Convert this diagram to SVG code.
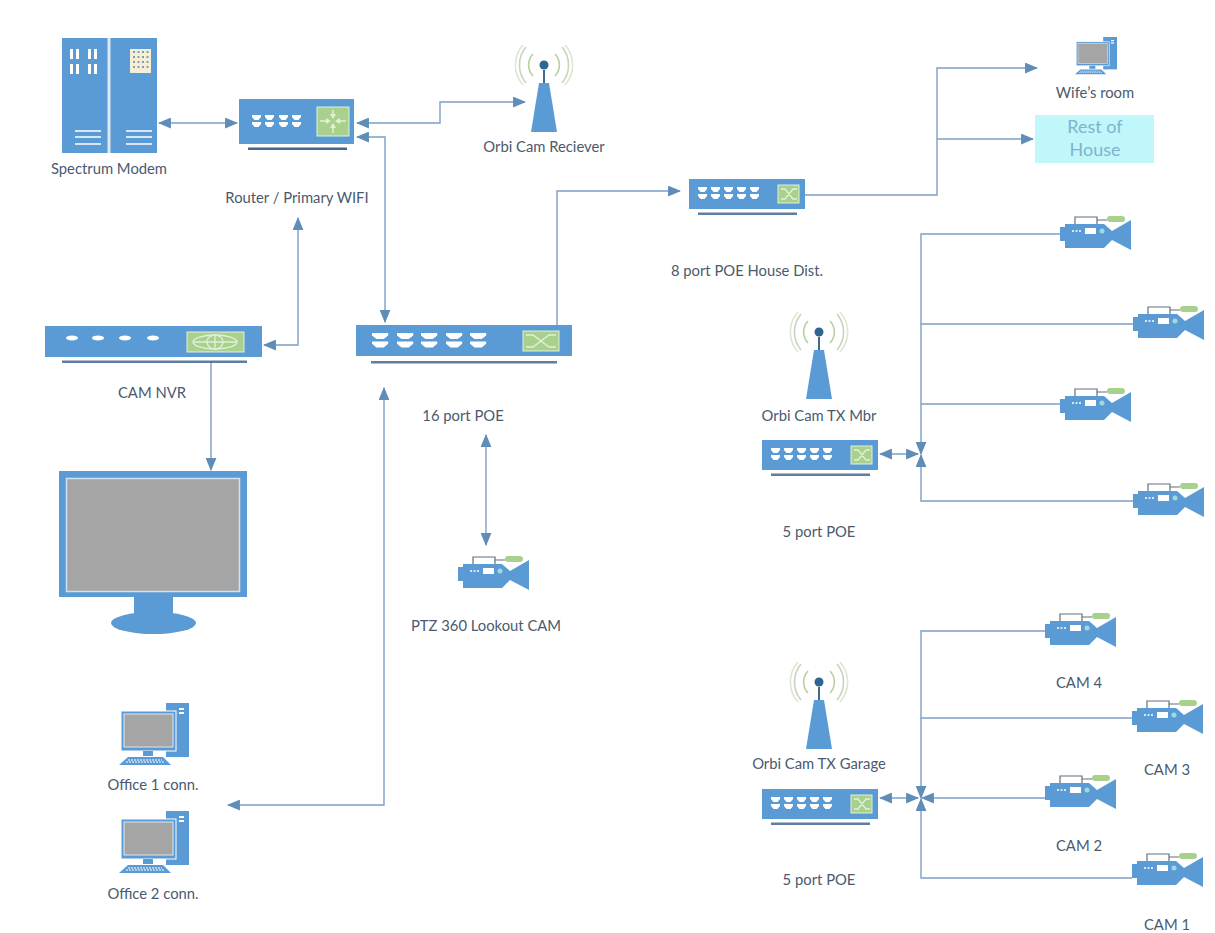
<svg xmlns="http://www.w3.org/2000/svg" xmlns:xlink="http://www.w3.org/1999/xlink" width="1215" height="933" viewBox="0 0 1215 933">
<style>
text{font-family:"Lato","Open Sans","Liberation Sans",sans-serif;font-size:14.800px;fill:#4a5a6e;text-anchor:middle}
.b{fill:#5b9bd5}
.w{fill:#fff}
.g{fill:#a5a5a5}
.lg{fill:#a9d18e;stroke:#e2f0d9;stroke-width:1}
.d{fill:#44688f}
.c{fill:none;stroke:#7d9fc6;stroke-width:1.4}
.a{fill:none;stroke:#b8cf9f;stroke-width:1.6}
.a2{fill:none;stroke:#c9d3c0;stroke-width:1.6}
.sym{fill:none;stroke:#e2f0d9;stroke-width:1.3}
.rest{font-size:18px;fill:#7fb4cc}
</style>
<defs>
<marker id="ah" viewBox="0 0 12 10" refX="11" refY="5" markerUnits="userSpaceOnUse" markerWidth="13" markerHeight="11" orient="auto-start-reverse"><path d="M0 0L12 5L0 10Z" fill="#5f8db8"/></marker>
<g id="port"><path d="M0 0H9V2L6.500 5H2.500L0 2Z" class="w"/><path d="M0 7H9V9L6.500 12H2.500L0 9Z" class="w"/></g>
<g id="sw5">
<rect width="116" height="30" class="b"/><rect x="9" y="33.500" width="99" height="2.500" class="d" opacity=".85"/>
<use href="#port" x="9" y="8"/><use href="#port" x="22" y="8"/><use href="#port" x="35" y="8"/><use href="#port" x="48" y="8"/><use href="#port" x="61" y="8"/>
<rect x="89" y="6" width="21" height="18" class="lg"/><path d="M92 10H96L104 20H108M92 20H96L104 10H108" class="sym"/>
</g>
<g id="cam">
<path d="M0 11H5V8H44L52 15L71 4V34L52 24L44 32H5V25H0Z" class="b"/>
<path d="M15 8V1H37V8M37 4H47" fill="none" stroke="#5f6f80" stroke-width="1.200"/>
<rect x="47" y="0" width="18" height="6" rx="3" fill="#a9d18e"/>
<rect x="25" y="12" width="11" height="6" class="w"/><circle cx="42" cy="15" r="2.500" fill="#9fd8df"/>
<path d="M12 15H21" stroke="#fff" stroke-width="1.500" stroke-dasharray="2 1.500"/>
</g>
<g id="ant">
<path d="M-5 -49H5L13 0H-13Z" class="b"/><path d="M0 -62V-49" stroke="#44688f" stroke-width="2"/><circle cx="0" cy="-67" r="4.500" fill="#2f6690"/>
<path d="M-11 -78A16 16 0 0 0 -11 -56M11 -78A16 16 0 0 1 11 -56" class="a"/>
<path d="M-18 -85A28 28 0 0 0 -18 -49M18 -85A28 28 0 0 1 18 -49" class="a2"/>
<path d="M-21 -87A30 30 0 0 0 -21 -47M21 -87A30 30 0 0 1 21 -47" class="a" opacity=".5"/>
</g>
<g id="pc">
<rect x="47" y="0" width="23" height="54" class="b"/><rect x="60" y="5" width="5" height="2" class="w"/><rect x="60" y="9" width="5" height="2" class="w"/>
<rect x="2" y="8" width="55" height="40" class="b" stroke="#fff" stroke-width="1"/><rect x="5" y="11" width="49" height="33" class="g" stroke="#dbe7f3" stroke-width="1"/>
<rect x="24" y="48" width="10" height="5" class="b"/>
<path d="M9 54H44L52 62H0Z" class="b"/><path d="M9 57H43M7 59H45" stroke="#fff" stroke-width="1" stroke-dasharray="2 1"/>
</g>
</defs>
<rect width="1215" height="933" fill="#fff"/>
<g id="connectors">
<path class="c" marker-start="url(#ah)" marker-end="url(#ah)" d="M159 123H237"/>
<path class="c" marker-start="url(#ah)" marker-end="url(#ah)" d="M357 123H440V102H525"/>
<path class="c" marker-start="url(#ah)" marker-end="url(#ah)" d="M357 137H385V322"/>
<path class="c" marker-start="url(#ah)" marker-end="url(#ah)" d="M298 218V345H264"/>
<path class="c" marker-end="url(#ah)" d="M557 326V191H680"/>
<path class="c" marker-end="url(#ah)" d="M211 361V470"/>
<path class="c" marker-start="url(#ah)" marker-end="url(#ah)" d="M384 388V805H228"/>
<path class="c" marker-start="url(#ah)" marker-end="url(#ah)" d="M486 435V545"/>
<path class="c" marker-end="url(#ah)" d="M805 195H937V68H1037"/>
<path class="c" marker-end="url(#ah)" d="M937 139H1033"/>
<path class="c" marker-start="url(#ah)" marker-end="url(#ah)" d="M880 454H918"/>
<path class="c" marker-end="url(#ah)" d="M921 324V454"/>
<path class="c" d="M1060 234H921V324H1133M921 404H1060"/>
<path class="c" marker-end="url(#ah)" d="M1133 501H921V455"/>
<path class="c" marker-start="url(#ah)" marker-end="url(#ah)" d="M880 798H918"/>
<path class="c" marker-end="url(#ah)" d="M921 718V798"/>
<path class="c" d="M1045 631H921V718H1132"/>
<path class="c" marker-end="url(#ah)" d="M1132 878H921V799"/>
<path class="c" marker-end="url(#ah)" d="M1045 798H922"/>
</g>
<g id="modem">
<rect x="62" y="38" width="95" height="115" class="b"/><rect x="107.500" y="38" width="3" height="115" fill="#dbe9f6"/>
<g class="w"><rect x="70" y="49" width="3" height="10"/><rect x="76" y="49" width="3" height="10"/><rect x="88" y="49" width="3" height="10"/><rect x="94" y="49" width="3" height="10"/><rect x="70" y="64" width="3" height="10"/><rect x="76" y="64" width="3" height="10"/><rect x="88" y="64" width="3" height="10"/><rect x="94" y="64" width="3" height="10"/></g>
<rect x="130" y="49" width="21" height="24" fill="#f4f0d8"/>
<path d="M133 52H149M133 57H149M133 62H149M133 67H149" stroke="#8c9aa8" stroke-width="2" stroke-dasharray="2 2.500"/>
<path d="M75 131H101M75 137H101M75 144H101M126 131H152M126 137H152M126 144H152" stroke="#fff" stroke-width="1.500"/>
<text x="109" y="174">Spectrum Modem</text>
</g>
<g id="router">
<rect x="239" y="99" width="115" height="45" class="b"/><rect x="248" y="147.500" width="99" height="2.500" class="d"/>
<use href="#port" x="252" y="115"/><use href="#port" x="265" y="115"/><use href="#port" x="279" y="115"/><use href="#port" x="292" y="115"/>
<rect x="317" y="107" width="32" height="29" class="lg"/>
<path d="M320 121H327M346 121H339M333 110V115M333 133V127" stroke="#e2f0d9" stroke-width="1.500"/>
<path d="M331 121L326 118V124ZM335 121L340 118V124ZM333 119L330 114H336ZM333 123L330 128H336Z" fill="#e2f0d9"/>
<text x="297" y="203">Router / Primary WIFI</text>
</g>
<g id="orbi-receiver"><use href="#ant" x="544" y="132"/><text x="544" y="152">Orbi Cam Reciever</text></g>
<g id="wife-pc"><use href="#pc" transform="translate(1075 37) scale(.6)"/><text x="1095" y="98">Wife’s room</text></g>
<g id="rest-of-house"><rect x="1035" y="115" width="119" height="48" fill="#bff7fb"/><text class="rest" x="1095" y="133">Rest of</text><text class="rest" x="1095" y="156">House</text></g>
<g id="house-dist"><use href="#sw5" x="689" y="179"/><text x="747" y="276">8 port POE House Dist.</text></g>
<g id="nvr">
<rect x="45" y="326" width="217" height="31" class="b"/><rect x="62" y="360.500" width="185" height="2.500" class="d" opacity=".85"/>
<g class="w"><ellipse cx="72" cy="338" rx="6" ry="2.500"/><ellipse cx="98" cy="338" rx="6" ry="2.500"/><ellipse cx="125" cy="338" rx="6" ry="2.500"/><ellipse cx="153" cy="338" rx="6" ry="2.500"/></g>
<rect x="187" y="332" width="57" height="20" class="lg"/>
<ellipse cx="215" cy="342" rx="22" ry="7" class="sym"/><ellipse cx="215" cy="342" rx="8" ry="7" class="sym"/><path d="M193 342H237M215 335V349" class="sym"/>
<text x="152" y="398">CAM NVR</text>
</g>
<g id="poe16">
<rect x="356" y="325" width="216" height="31" class="b"/><rect x="371" y="361" width="186" height="2.500" class="d" opacity=".85"/>
<use href="#port" transform="translate(372 333) scale(1.800 1.200)"/><use href="#port" transform="translate(397 333) scale(1.800 1.200)"/><use href="#port" transform="translate(421 333) scale(1.800 1.200)"/><use href="#port" transform="translate(446 333) scale(1.800 1.200)"/><use href="#port" transform="translate(470 333) scale(1.800 1.200)"/>
<rect x="523" y="331" width="36" height="20" class="lg"/><path d="M526 335H533L549 347H556M526 347H533L549 335H556" class="sym"/>
<text x="463" y="421">16 port POE</text>
</g>
<g id="main-monitor">
<rect x="134" y="597" width="39" height="18" class="b"/><ellipse cx="153.500" cy="623" rx="42.500" ry="11" class="b"/>
<rect x="59" y="471" width="188" height="126" class="b"/><rect x="66.500" y="478.500" width="173" height="113" class="g" stroke="#cfe2f3" stroke-width="1.500"/>
</g>
<g id="ptz-cam"><use href="#cam" x="458" y="556"/><text x="486" y="631">PTZ 360 Lookout CAM</text></g>
<g id="office1"><use href="#pc" x="119" y="703"/><text x="153" y="790">Office 1 conn.</text></g>
<g id="office2"><use href="#pc" x="119" y="811"/><text x="153" y="899">Office 2 conn.</text></g>
<g id="orbi-mbr"><use href="#ant" x="819" y="399"/><text x="819" y="421">Orbi Cam TX Mbr</text></g>
<g id="poe5-mbr"><use href="#sw5" x="762" y="440"/><text x="819" y="537">5 port POE</text></g>
<g id="orbi-garage"><use href="#ant" x="819" y="749"/><text x="819" y="769">Orbi Cam TX Garage</text></g>
<g id="poe5-garage"><use href="#sw5" x="762" y="789"/><text x="819" y="885">5 port POE</text></g>
<g id="mbr-cam1"><use href="#cam" x="1060" y="216"/></g>
<g id="mbr-cam2"><use href="#cam" x="1133" y="306"/></g>
<g id="mbr-cam3"><use href="#cam" x="1060" y="388"/></g>
<g id="mbr-cam4"><use href="#cam" x="1133" y="483"/></g>
<g id="cam4"><use href="#cam" x="1045" y="613"/><text x="1079" y="688">CAM 4</text></g>
<g id="cam3"><use href="#cam" x="1132" y="700"/><text x="1167" y="775">CAM 3</text></g>
<g id="cam2"><use href="#cam" x="1045" y="775"/><text x="1079" y="851">CAM 2</text></g>
<g id="cam1"><use href="#cam" x="1132" y="853"/><text x="1167" y="930">CAM 1</text></g>
</svg>
